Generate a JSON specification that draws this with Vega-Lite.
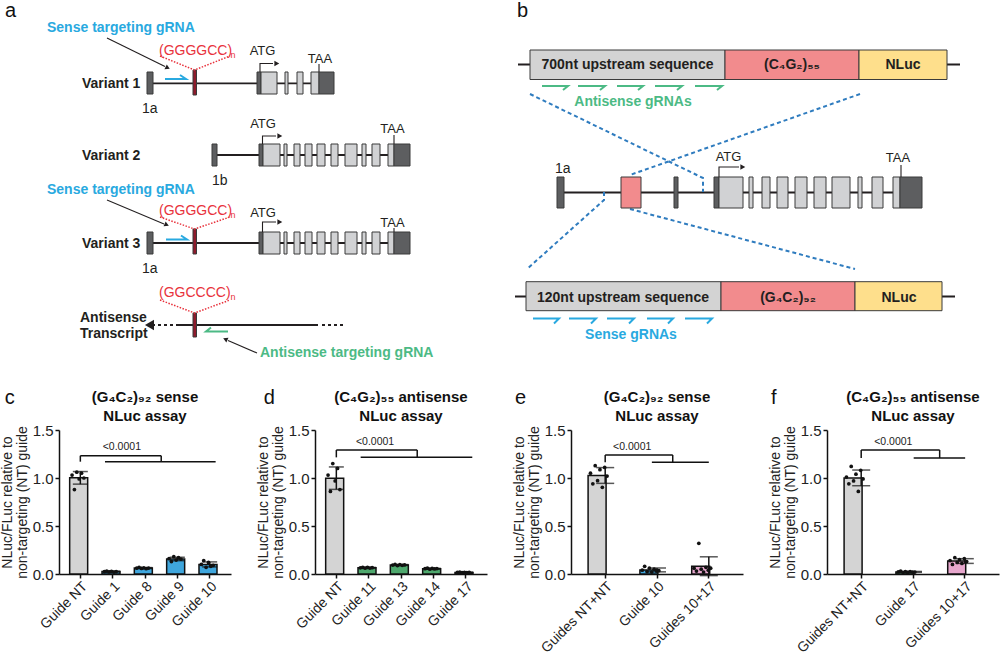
{
"$schema": "https://vega.github.io/schema/vega-lite/v6.json",
"padding": 0,
"columns": 1,
"align": "none",
"spacing": 3,
"resolve": {"scale": {"color": "independent"}},
"datasets": {
"lines": [
{"id":"bb1","kind":"backbone","i":0,"x":148,"y":83.3},{"id":"bb1","kind":"backbone","i":1,"x":332,"y":83.3},
{"id":"bb2","kind":"backbone","i":0,"x":215,"y":155},{"id":"bb2","kind":"backbone","i":1,"x":408,"y":155},
{"id":"bb3","kind":"backbone","i":0,"x":148,"y":243},{"id":"bb3","kind":"backbone","i":1,"x":408,"y":243},
{"id":"bb4","kind":"backbone","i":0,"x":178,"y":325},{"id":"bb4","kind":"backbone","i":1,"x":318,"y":325},
{"id":"bd1","kind":"backbone-gap","i":0,"x":152,"y":325},{"id":"bd1","kind":"backbone-gap","i":1,"x":178,"y":325},
{"id":"bd2","kind":"backbone-gap","i":0,"x":322,"y":325},{"id":"bd2","kind":"backbone-gap","i":1,"x":344,"y":325},
{"id":"bbt","kind":"backbone","i":0,"x":518,"y":64.5},{"id":"bbt","kind":"backbone","i":1,"x":960,"y":64.5},
{"id":"bbg","kind":"backbone","i":0,"x":557,"y":192.5},{"id":"bbg","kind":"backbone","i":1,"x":920,"y":192.5},
{"id":"bbb","kind":"backbone","i":0,"x":515,"y":296.5},{"id":"bbb","kind":"backbone","i":1,"x":955,"y":296.5},
{"id":"p1","kind":"pointer","i":0,"x":107,"y":38},{"id":"p1","kind":"pointer","i":1,"x":165,"y":66.5},
{"id":"p2","kind":"pointer","i":0,"x":107,"y":200},{"id":"p2","kind":"pointer","i":1,"x":164,"y":224},
{"id":"p3","kind":"pointer","i":0,"x":257,"y":353},{"id":"p3","kind":"pointer","i":1,"x":228,"y":340.5},
{"id":"t1","kind":"tss","i":0,"x":260,"y":72},{"id":"t1","kind":"tss","i":1,"x":260,"y":63.5},{"id":"t1","kind":"tss","i":2,"x":273,"y":63.5},
{"id":"t2","kind":"tss","i":0,"x":262.5,"y":144},{"id":"t2","kind":"tss","i":1,"x":262.5,"y":136},{"id":"t2","kind":"tss","i":2,"x":276,"y":136},
{"id":"t3","kind":"tss","i":0,"x":262.5,"y":232},{"id":"t3","kind":"tss","i":1,"x":262.5,"y":222},{"id":"t3","kind":"tss","i":2,"x":276,"y":222},
{"id":"t4","kind":"tss","i":0,"x":719,"y":177},{"id":"t4","kind":"tss","i":1,"x":719,"y":167},{"id":"t4","kind":"tss","i":2,"x":739,"y":167},
{"id":"k1","kind":"stop","i":0,"x":319,"y":64},{"id":"k1","kind":"stop","i":1,"x":319,"y":72},
{"id":"k2","kind":"stop","i":0,"x":394,"y":135},{"id":"k2","kind":"stop","i":1,"x":394,"y":144},
{"id":"k3","kind":"stop","i":0,"x":394,"y":228},{"id":"k3","kind":"stop","i":1,"x":394,"y":232},
{"id":"k4","kind":"stop","i":0,"x":901,"y":165},{"id":"k4","kind":"stop","i":1,"x":901,"y":177},
{"id":"s1","kind":"sense-guide","i":0,"x":165,"y":79},{"id":"s1","kind":"sense-guide","i":1,"x":186,"y":79},{"id":"s1","kind":"sense-guide","i":2,"x":180,"y":75},
{"id":"s2","kind":"sense-guide","i":0,"x":166,"y":239.5},{"id":"s2","kind":"sense-guide","i":1,"x":187,"y":239.5},{"id":"s2","kind":"sense-guide","i":2,"x":181,"y":235.5},
{"id":"s3","kind":"sense-guide","i":0,"x":533,"y":318.5},{"id":"s3","kind":"sense-guide","i":1,"x":559,"y":318.5},{"id":"s3","kind":"sense-guide","i":2,"x":554,"y":323.5},
{"id":"s4","kind":"sense-guide","i":0,"x":569,"y":318.5},{"id":"s4","kind":"sense-guide","i":1,"x":596,"y":318.5},{"id":"s4","kind":"sense-guide","i":2,"x":591,"y":323.5},
{"id":"s5","kind":"sense-guide","i":0,"x":607,"y":318.5},{"id":"s5","kind":"sense-guide","i":1,"x":634,"y":318.5},{"id":"s5","kind":"sense-guide","i":2,"x":629,"y":323.5},
{"id":"s6","kind":"sense-guide","i":0,"x":647,"y":318.5},{"id":"s6","kind":"sense-guide","i":1,"x":673,"y":318.5},{"id":"s6","kind":"sense-guide","i":2,"x":668,"y":323.5},
{"id":"s7","kind":"sense-guide","i":0,"x":685,"y":318.5},{"id":"s7","kind":"sense-guide","i":1,"x":712,"y":318.5},{"id":"s7","kind":"sense-guide","i":2,"x":707,"y":323.5},
{"id":"a1","kind":"antisense-guide","i":0,"x":228,"y":331.5},{"id":"a1","kind":"antisense-guide","i":1,"x":206,"y":331.5},{"id":"a1","kind":"antisense-guide","i":2,"x":211,"y":327.5},
{"id":"a2","kind":"antisense-guide","i":0,"x":542,"y":86},{"id":"a2","kind":"antisense-guide","i":1,"x":568,"y":86},{"id":"a2","kind":"antisense-guide","i":2,"x":563,"y":90},
{"id":"a3","kind":"antisense-guide","i":0,"x":578,"y":86},{"id":"a3","kind":"antisense-guide","i":1,"x":605,"y":86},{"id":"a3","kind":"antisense-guide","i":2,"x":600,"y":90},
{"id":"a4","kind":"antisense-guide","i":0,"x":617,"y":86},{"id":"a4","kind":"antisense-guide","i":1,"x":643,"y":86},{"id":"a4","kind":"antisense-guide","i":2,"x":638,"y":90},
{"id":"a5","kind":"antisense-guide","i":0,"x":655,"y":86},{"id":"a5","kind":"antisense-guide","i":1,"x":682,"y":86},{"id":"a5","kind":"antisense-guide","i":2,"x":677,"y":90},
{"id":"a6","kind":"antisense-guide","i":0,"x":695,"y":86},{"id":"a6","kind":"antisense-guide","i":1,"x":722,"y":86},{"id":"a6","kind":"antisense-guide","i":2,"x":717,"y":90},
{"id":"r1","kind":"repeat-span","i":0,"x":160,"y":56},{"id":"r1","kind":"repeat-span","i":1,"x":194.5,"y":70},{"id":"r1","kind":"repeat-span","i":2,"x":230,"y":56},
{"id":"r2","kind":"repeat-span","i":0,"x":160,"y":217},{"id":"r2","kind":"repeat-span","i":1,"x":194.5,"y":229},{"id":"r2","kind":"repeat-span","i":2,"x":230,"y":217},
{"id":"r3","kind":"repeat-span","i":0,"x":160,"y":300},{"id":"r3","kind":"repeat-span","i":1,"x":194.5,"y":313},{"id":"r3","kind":"repeat-span","i":2,"x":230,"y":300},
{"id":"z1","kind":"zoom-link","i":0,"x":530,"y":94},{"id":"z1","kind":"zoom-link","i":1,"x":703,"y":178},{"id":"z1","kind":"zoom-link","i":2,"x":703,"y":192},
{"id":"z2","kind":"zoom-link","i":0,"x":860,"y":94},{"id":"z2","kind":"zoom-link","i":1,"x":630,"y":175},
{"id":"z3","kind":"zoom-link","i":0,"x":604,"y":192},{"id":"z3","kind":"zoom-link","i":1,"x":604,"y":200},{"id":"z3","kind":"zoom-link","i":2,"x":527,"y":269},
{"id":"z4","kind":"zoom-link","i":0,"x":630,"y":209},{"id":"z4","kind":"zoom-link","i":1,"x":855,"y":269}
],
"rects": [
{"x":147,"xe":153,"y":72,"ye":94,"part":"noncoding"},
{"x":193,"xe":196.5,"y":70,"ye":95,"part":"repeat"},
{"x":257,"xe":261,"y":72,"ye":94,"part":"noncoding"},{"x":261,"xe":277,"y":72,"ye":94,"part":"coding"},
{"x":285,"xe":288,"y":72,"ye":94,"part":"coding"},{"x":297,"xe":303,"y":72,"ye":94,"part":"coding"},
{"x":311,"xe":319,"y":72,"ye":94,"part":"coding"},{"x":319,"xe":334,"y":72,"ye":94,"part":"noncoding"},
{"x":212,"xe":217,"y":144,"ye":166,"part":"noncoding"},
{"x":259,"xe":263,"y":144,"ye":166,"part":"noncoding"},{"x":263,"xe":280,"y":144,"ye":166,"part":"coding"},
{"x":284,"xe":287,"y":144,"ye":166,"part":"coding"},{"x":294,"xe":300,"y":144,"ye":166,"part":"coding"},
{"x":305,"xe":312,"y":144,"ye":166,"part":"coding"},{"x":317,"xe":325,"y":144,"ye":166,"part":"coding"},
{"x":331,"xe":338,"y":144,"ye":166,"part":"coding"},{"x":345,"xe":357,"y":144,"ye":166,"part":"coding"},
{"x":362,"xe":366,"y":144,"ye":166,"part":"coding"},{"x":372,"xe":380,"y":144,"ye":166,"part":"coding"},
{"x":388,"xe":394,"y":144,"ye":166,"part":"coding"},{"x":394,"xe":410,"y":144,"ye":166,"part":"noncoding"},
{"x":147,"xe":153,"y":232,"ye":254,"part":"noncoding"},
{"x":193,"xe":196.5,"y":229,"ye":254,"part":"repeat"},
{"x":259,"xe":263,"y":232,"ye":254,"part":"noncoding"},{"x":263,"xe":280,"y":232,"ye":254,"part":"coding"},
{"x":284,"xe":287,"y":232,"ye":254,"part":"coding"},{"x":294,"xe":300,"y":232,"ye":254,"part":"coding"},
{"x":305,"xe":312,"y":232,"ye":254,"part":"coding"},{"x":317,"xe":325,"y":232,"ye":254,"part":"coding"},
{"x":331,"xe":338,"y":232,"ye":254,"part":"coding"},{"x":345,"xe":357,"y":232,"ye":254,"part":"coding"},
{"x":362,"xe":366,"y":232,"ye":254,"part":"coding"},{"x":372,"xe":380,"y":232,"ye":254,"part":"coding"},
{"x":388,"xe":394,"y":232,"ye":254,"part":"coding"},{"x":394,"xe":410,"y":232,"ye":254,"part":"noncoding"},
{"x":193,"xe":196.5,"y":313,"ye":337,"part":"repeat"},
{"x":557,"xe":564,"y":177,"ye":208,"part":"noncoding"},
{"x":621,"xe":641,"y":177,"ye":208,"part":"expansion"},
{"x":674,"xe":678,"y":177,"ye":208,"part":"noncoding"},
{"x":714,"xe":719,"y":177,"ye":208,"part":"noncoding"},{"x":719,"xe":743,"y":177,"ye":208,"part":"coding"},
{"x":749,"xe":753,"y":177,"ye":208,"part":"coding"},{"x":762,"xe":770,"y":177,"ye":208,"part":"coding"},
{"x":777,"xe":788,"y":177,"ye":208,"part":"coding"},{"x":795,"xe":807,"y":177,"ye":208,"part":"coding"},
{"x":814,"xe":826,"y":177,"ye":208,"part":"coding"},{"x":832,"xe":850,"y":177,"ye":208,"part":"coding"},
{"x":858,"xe":862,"y":177,"ye":208,"part":"coding"},{"x":872,"xe":883,"y":177,"ye":208,"part":"coding"},
{"x":893,"xe":900,"y":177,"ye":208,"part":"coding"},{"x":900,"xe":922,"y":177,"ye":208,"part":"noncoding"},
{"x":530,"xe":725,"y":50,"ye":79.5,"part":"upstream"},{"x":725,"xe":859,"y":50,"ye":79.5,"part":"expansion"},{"x":859,"xe":947,"y":50,"ye":79.5,"part":"reporter"},
{"x":526,"xe":721,"y":281.7,"ye":310.7,"part":"upstream"},{"x":721,"xe":855,"y":281.7,"ye":310.7,"part":"expansion"},{"x":855,"xe":942,"y":281.7,"ye":310.7,"part":"reporter"}
],
"heads": [
{"x":167,"y":67.5,"dir":116,"kind":"pointer"},{"x":166,"y":224.5,"dir":113,"kind":"pointer"},{"x":226,"y":339.5,"dir":294,"kind":"pointer"},
{"x":276,"y":63.5,"dir":90,"kind":"tss"},{"x":279,"y":136,"dir":90,"kind":"tss"},{"x":279,"y":222,"dir":90,"kind":"tss"},{"x":742,"y":167,"dir":90,"kind":"tss"},
{"x":151,"y":325,"dir":270,"kind":"transcript"}
],
"labels": [
{"t":"a","x":5,"y":17,"kind":"panel"},{"t":"b","x":517,"y":17,"kind":"panel"},
{"t":"Variant 1","x":82,"y":88,"kind":"transcript"},{"t":"Variant 2","x":82,"y":159.5,"kind":"transcript"},{"t":"Variant 3","x":82,"y":248,"kind":"transcript"},
{"t":"Antisense","x":80,"y":322,"kind":"transcript"},{"t":"Transcript","x":80,"y":338,"kind":"transcript"},
{"t":"Sense targeting gRNA","x":47,"y":32,"kind":"guide-note","strand":"sense"},
{"t":"Sense targeting gRNA","x":47,"y":194,"kind":"guide-note","strand":"sense"},
{"t":"Antisense targeting gRNA","x":260,"y":357,"kind":"guide-note","strand":"antisense"},
{"t":"(GGGGCC)","x":159,"y":55,"kind":"repeat"},{"t":"(GGGGCC)","x":159,"y":215,"kind":"repeat"},{"t":"(GGCCCC)","x":159,"y":297,"kind":"repeat"},
{"t":"n","x":230.5,"y":58,"kind":"repeat-n"},{"t":"n","x":230.5,"y":218,"kind":"repeat-n"},{"t":"n","x":230.5,"y":300,"kind":"repeat-n"},
{"t":"1a","x":142,"y":113,"kind":"exon"},{"t":"1b","x":212,"y":185,"kind":"exon"},{"t":"1a","x":142,"y":273,"kind":"exon"},{"t":"1a","x":555,"y":173,"kind":"exon"},
{"t":"ATG","x":262.5,"y":55,"kind":"codon"},{"t":"TAA","x":320,"y":62.5,"kind":"codon"},
{"t":"ATG","x":263,"y":128,"kind":"codon"},{"t":"TAA","x":392.5,"y":133,"kind":"codon"},
{"t":"ATG","x":263,"y":217,"kind":"codon"},{"t":"TAA","x":392.5,"y":227,"kind":"codon"},
{"t":"ATG","x":728.5,"y":161,"kind":"codon"},{"t":"TAA","x":898,"y":162,"kind":"codon"},
{"t":"700nt upstream sequence","x":627.5,"y":69,"kind":"construct"},{"t":"(C₄G₂)₅₅","x":792,"y":69,"kind":"construct"},{"t":"NLuc","x":903,"y":69,"kind":"construct"},
{"t":"120nt upstream sequence","x":623,"y":301.5,"kind":"construct"},{"t":"(G₄C₂)₉₂","x":788,"y":301.5,"kind":"construct"},{"t":"NLuc","x":899,"y":301.5,"kind":"construct"},
{"t":"Antisense gRNAs","x":633,"y":106,"kind":"guide-set","strand":"antisense"},
{"t":"Sense gRNAs","x":631,"y":339,"kind":"guide-set","strand":"sense"}
],
"c": [
{"g":"Guide NT","target":"NT","rep":1,"v":1.03},{"g":"Guide NT","target":"NT","rep":2,"v":0.88},{"g":"Guide NT","target":"NT","rep":3,"v":1.06},{"g":"Guide NT","target":"NT","rep":4,"v":0.99},{"g":"Guide NT","target":"NT","rep":5,"v":1.05},{"g":"Guide NT","target":"NT","rep":6,"v":1.0},
{"g":"Guide 1","target":"sense","rep":1,"v":0.025},{"g":"Guide 1","target":"sense","rep":2,"v":0.03},{"g":"Guide 1","target":"sense","rep":3,"v":0.022},{"g":"Guide 1","target":"sense","rep":4,"v":0.028},{"g":"Guide 1","target":"sense","rep":5,"v":0.02},{"g":"Guide 1","target":"sense","rep":6,"v":0.026},
{"g":"Guide 8","target":"sense","rep":1,"v":0.06},{"g":"Guide 8","target":"sense","rep":2,"v":0.07},{"g":"Guide 8","target":"sense","rep":3,"v":0.058},{"g":"Guide 8","target":"sense","rep":4,"v":0.065},{"g":"Guide 8","target":"sense","rep":5,"v":0.055},{"g":"Guide 8","target":"sense","rep":6,"v":0.062},
{"g":"Guide 9","target":"sense","rep":1,"v":0.16},{"g":"Guide 9","target":"sense","rep":2,"v":0.13},{"g":"Guide 9","target":"sense","rep":3,"v":0.18},{"g":"Guide 9","target":"sense","rep":4,"v":0.145},{"g":"Guide 9","target":"sense","rep":5,"v":0.17},{"g":"Guide 9","target":"sense","rep":6,"v":0.155},
{"g":"Guide 10","target":"sense","rep":1,"v":0.1},{"g":"Guide 10","target":"sense","rep":2,"v":0.14},{"g":"Guide 10","target":"sense","rep":3,"v":0.07},{"g":"Guide 10","target":"sense","rep":4,"v":0.12},{"g":"Guide 10","target":"sense","rep":5,"v":0.08},{"g":"Guide 10","target":"sense","rep":6,"v":0.09}
],
"d": [
{"g":"Guide NT","target":"NT","rep":1,"v":1.03},{"g":"Guide NT","target":"NT","rep":2,"v":0.86},{"g":"Guide NT","target":"NT","rep":3,"v":1.15},{"g":"Guide NT","target":"NT","rep":4,"v":0.97},{"g":"Guide NT","target":"NT","rep":5,"v":1.1},{"g":"Guide NT","target":"NT","rep":6,"v":0.88},
{"g":"Guide 11","target":"antisense","rep":1,"v":0.064},{"g":"Guide 11","target":"antisense","rep":2,"v":0.07},{"g":"Guide 11","target":"antisense","rep":3,"v":0.06},{"g":"Guide 11","target":"antisense","rep":4,"v":0.068},{"g":"Guide 11","target":"antisense","rep":5,"v":0.062},{"g":"Guide 11","target":"antisense","rep":6,"v":0.066},
{"g":"Guide 13","target":"antisense","rep":1,"v":0.093},{"g":"Guide 13","target":"antisense","rep":2,"v":0.1},{"g":"Guide 13","target":"antisense","rep":3,"v":0.088},{"g":"Guide 13","target":"antisense","rep":4,"v":0.098},{"g":"Guide 13","target":"antisense","rep":5,"v":0.09},{"g":"Guide 13","target":"antisense","rep":6,"v":0.095},
{"g":"Guide 14","target":"antisense","rep":1,"v":0.055},{"g":"Guide 14","target":"antisense","rep":2,"v":0.06},{"g":"Guide 14","target":"antisense","rep":3,"v":0.05},{"g":"Guide 14","target":"antisense","rep":4,"v":0.058},{"g":"Guide 14","target":"antisense","rep":5,"v":0.053},{"g":"Guide 14","target":"antisense","rep":6,"v":0.056},
{"g":"Guide 17","target":"antisense","rep":1,"v":0.016},{"g":"Guide 17","target":"antisense","rep":2,"v":0.02},{"g":"Guide 17","target":"antisense","rep":3,"v":0.014},{"g":"Guide 17","target":"antisense","rep":4,"v":0.018},{"g":"Guide 17","target":"antisense","rep":5,"v":0.015},{"g":"Guide 17","target":"antisense","rep":6,"v":0.017}
],
"e": [
{"g":"Guides NT+NT","target":"NT","rep":1,"v":1.05},{"g":"Guides NT+NT","target":"NT","rep":2,"v":0.94},{"g":"Guides NT+NT","target":"NT","rep":3,"v":1.128},{"g":"Guides NT+NT","target":"NT","rep":4,"v":0.972},{"g":"Guides NT+NT","target":"NT","rep":5,"v":1.087},{"g":"Guides NT+NT","target":"NT","rep":6,"v":0.903},{"g":"Guides NT+NT","target":"NT","rep":7,"v":1.11},{"g":"Guides NT+NT","target":"NT","rep":8,"v":1.02},
{"g":"Guide 10","target":"sense","rep":1,"v":0.04},{"g":"Guide 10","target":"sense","rep":2,"v":0.08},{"g":"Guide 10","target":"sense","rep":3,"v":0.025},{"g":"Guide 10","target":"sense","rep":4,"v":0.06},{"g":"Guide 10","target":"sense","rep":5,"v":0.02},{"g":"Guide 10","target":"sense","rep":6,"v":0.05},{"g":"Guide 10","target":"sense","rep":7,"v":0.03},{"g":"Guide 10","target":"sense","rep":8,"v":0.035},
{"g":"Guides 10+17","target":"sense+antisense","rep":1,"v":0.06},{"g":"Guides 10+17","target":"sense+antisense","rep":2,"v":0.03},{"g":"Guides 10+17","target":"sense+antisense","rep":3,"v":0.32},{"g":"Guides 10+17","target":"sense+antisense","rep":4,"v":0.05},{"g":"Guides 10+17","target":"sense+antisense","rep":5,"v":0.02},{"g":"Guides 10+17","target":"sense+antisense","rep":6,"v":0.07},{"g":"Guides 10+17","target":"sense+antisense","rep":7,"v":0.04},{"g":"Guides 10+17","target":"sense+antisense","rep":8,"v":0.06}
],
"f": [
{"g":"Guides NT+NT","target":"NT","rep":1,"v":1.01},{"g":"Guides NT+NT","target":"NT","rep":2,"v":0.94},{"g":"Guides NT+NT","target":"NT","rep":3,"v":1.12},{"g":"Guides NT+NT","target":"NT","rep":4,"v":0.97},{"g":"Guides NT+NT","target":"NT","rep":5,"v":1.04},{"g":"Guides NT+NT","target":"NT","rep":6,"v":0.86},{"g":"Guides NT+NT","target":"NT","rep":7,"v":1.08},{"g":"Guides NT+NT","target":"NT","rep":8,"v":0.99},
{"g":"Guide 17","target":"antisense","rep":1,"v":0.022},{"g":"Guide 17","target":"antisense","rep":2,"v":0.03},{"g":"Guide 17","target":"antisense","rep":3,"v":0.018},{"g":"Guide 17","target":"antisense","rep":4,"v":0.024},{"g":"Guide 17","target":"antisense","rep":5,"v":0.016},{"g":"Guide 17","target":"antisense","rep":6,"v":0.026},{"g":"Guide 17","target":"antisense","rep":7,"v":0.02},{"g":"Guide 17","target":"antisense","rep":8,"v":0.02},
{"g":"Guides 10+17","target":"sense+antisense","rep":1,"v":0.14},{"g":"Guides 10+17","target":"sense+antisense","rep":2,"v":0.1},{"g":"Guides 10+17","target":"sense+antisense","rep":3,"v":0.17},{"g":"Guides 10+17","target":"sense+antisense","rep":4,"v":0.12},{"g":"Guides 10+17","target":"sense+antisense","rep":5,"v":0.15},{"g":"Guides 10+17","target":"sense+antisense","rep":6,"v":0.11},{"g":"Guides 10+17","target":"sense+antisense","rep":7,"v":0.16},{"g":"Guides 10+17","target":"sense+antisense","rep":8,"v":0.13}
],
"cBr": [{"panel":"c","h":["(G₄C₂)₉₂ sense","NLuc assay"],"center":"Guide 8","ref":"Guide NT","mid":"Guide 8","first":"Guide 1","last":"Guide 10","top":1.232,"low":1.17,"p":"<0.0001","py":1.326}],
"dBr": [{"panel":"d","h":["(C₄G₂)₅₅ antisense","NLuc assay"],"center":"Guide 13","ref":"Guide NT","mid":"Guide 13","first":"Guide 11","last":"Guide 17","top":1.292,"low":1.215,"p":"<0.0001","py":1.373}],
"eBr": [{"panel":"e","h":["(G₄C₂)₉₂ sense","NLuc assay"],"center":"Guide 10","ref":"Guides NT+NT","mid":"Guide 10","first":"Guide 10","last":"Guides 10+17","top":1.24,"low":1.163,"p":"<0.0001","py":1.326}],
"fBr": [{"panel":"f","h":["(C₄G₂)₅₅ antisense","NLuc assay"],"center":"Guide 17","ref":"Guides NT+NT","mid":"Guide 17","first":"Guide 17","last":"Guides 10+17","top":1.292,"low":1.208,"p":"<0.0001","py":1.373}]
},
"concat": [
{
"width": 941, "height": 385,
"encoding": {
 "x": {"field":"x","type":"quantitative","scale":{"domain":[59,1000],"nice":false,"zero":false},"axis":null},
 "y": {"field":"y","type":"quantitative","scale":{"domain":[0,385],"nice":false,"zero":false,"reverse":true},"axis":null}
},
"layer": [
 {"data":{"name":"lines"},"transform":[{"filter":"datum.kind == 'backbone'"}],"mark":{"type":"line","color":"#231f20","strokeWidth":1.8,"strokeCap":"butt"},"encoding":{"detail":{"field":"id"},"order":{"field":"i","type":"quantitative"}}},
 {"data":{"name":"lines"},"transform":[{"filter":"datum.kind == 'backbone-gap'"}],"mark":{"type":"line","color":"#231f20","strokeWidth":1.8,"strokeDash":[3,3],"strokeCap":"butt"},"encoding":{"detail":{"field":"id"},"order":{"field":"i","type":"quantitative"}}},
 {"data":{"name":"lines"},"transform":[{"filter":"datum.kind == 'zoom-link'"}],"mark":{"type":"line","color":"#2f7cbf","strokeWidth":2,"strokeDash":[4,3],"strokeCap":"butt"},"encoding":{"detail":{"field":"id"},"order":{"field":"i","type":"quantitative"}}},
 {"data":{"name":"rects"},"mark":{"type":"rect","stroke":"#3a3a3a","strokeWidth":1},"encoding":{"x2":{"field":"xe"},"y2":{"field":"ye"},"color":{"field":"part","type":"nominal","scale":{"domain":["noncoding","coding","repeat","expansion","upstream","reporter"],"range":["#5d5e60","#d1d2d4","#8e1b2c","#f28b8d","#d3d3d3","#fedf8c"]},"legend":null}}},
 {"data":{"name":"lines"},"transform":[{"filter":"datum.kind == 'pointer' || datum.kind == 'tss' || datum.kind == 'stop'"}],"mark":{"type":"line","color":"#231f20","strokeWidth":1.1,"strokeCap":"butt"},"encoding":{"detail":{"field":"id"},"order":{"field":"i","type":"quantitative"}}},
 {"data":{"name":"lines"},"transform":[{"filter":"datum.kind == 'sense-guide'"}],"mark":{"type":"line","color":"#29a9e0","strokeWidth":2},"encoding":{"detail":{"field":"id"},"order":{"field":"i","type":"quantitative"}}},
 {"data":{"name":"lines"},"transform":[{"filter":"datum.kind == 'antisense-guide'"}],"mark":{"type":"line","color":"#4cba85","strokeWidth":2},"encoding":{"detail":{"field":"id"},"order":{"field":"i","type":"quantitative"}}},
 {"data":{"name":"lines"},"transform":[{"filter":"datum.kind == 'repeat-span'"}],"mark":{"type":"line","color":"#e8323c","strokeWidth":1.5,"strokeDash":[1.5,1.5],"strokeCap":"butt"},"encoding":{"detail":{"field":"id"},"order":{"field":"i","type":"quantitative"}}},
 {"data":{"name":"heads"},"transform":[{"filter":"datum.kind == 'pointer'"}],"mark":{"type":"point","shape":"triangle","filled":true,"opacity":1,"color":"#231f20","size":28},"encoding":{"angle":{"field":"dir","type":"quantitative","scale":null}}},
 {"data":{"name":"heads"},"transform":[{"filter":"datum.kind == 'tss'"}],"mark":{"type":"point","shape":"triangle","filled":true,"opacity":1,"color":"#231f20","size":32},"encoding":{"angle":{"field":"dir","type":"quantitative","scale":null}}},
 {"data":{"name":"heads"},"transform":[{"filter":"datum.kind == 'transcript'"}],"mark":{"type":"point","shape":"triangle","filled":true,"opacity":1,"color":"#231f20","size":110},"encoding":{"angle":{"field":"dir","type":"quantitative","scale":null}}},
 {"data":{"name":"labels"},"transform":[{"filter":"datum.kind == 'panel'"}],"mark":{"type":"text","align":"left","baseline":"alphabetic","fontSize":20,"color":"#111"},"encoding":{"text":{"field":"t"}}},
 {"data":{"name":"labels"},"transform":[{"filter":"datum.kind == 'transcript'"}],"mark":{"type":"text","align":"left","baseline":"alphabetic","fontSize":14,"fontWeight":"bold","color":"#231f20"},"encoding":{"text":{"field":"t"}}},
 {"data":{"name":"labels"},"transform":[{"filter":"datum.kind == 'guide-note' && datum.strand == 'sense'"}],"mark":{"type":"text","align":"left","baseline":"alphabetic","fontSize":14,"fontWeight":"bold","color":"#29a9e0"},"encoding":{"text":{"field":"t"}}},
 {"data":{"name":"labels"},"transform":[{"filter":"datum.kind == 'guide-note' && datum.strand == 'antisense'"}],"mark":{"type":"text","align":"left","baseline":"alphabetic","fontSize":14,"fontWeight":"bold","color":"#4cba85"},"encoding":{"text":{"field":"t"}}},
 {"data":{"name":"labels"},"transform":[{"filter":"datum.kind == 'repeat'"}],"mark":{"type":"text","align":"left","baseline":"alphabetic","fontSize":14,"color":"#e8323c"},"encoding":{"text":{"field":"t"}}},
 {"data":{"name":"labels"},"transform":[{"filter":"datum.kind == 'repeat-n'"}],"mark":{"type":"text","align":"left","baseline":"alphabetic","fontSize":9,"color":"#e8323c"},"encoding":{"text":{"field":"t"}}},
 {"data":{"name":"labels"},"transform":[{"filter":"datum.kind == 'exon'"}],"mark":{"type":"text","align":"left","baseline":"alphabetic","fontSize":14,"color":"#231f20"},"encoding":{"text":{"field":"t"}}},
 {"data":{"name":"labels"},"transform":[{"filter":"datum.kind == 'codon'"}],"mark":{"type":"text","align":"center","baseline":"alphabetic","fontSize":13,"color":"#231f20"},"encoding":{"text":{"field":"t"}}},
 {"data":{"name":"labels"},"transform":[{"filter":"datum.kind == 'construct'"}],"mark":{"type":"text","align":"center","baseline":"alphabetic","fontSize":14,"fontWeight":"bold","color":"#231f20"},"encoding":{"text":{"field":"t"}}},
 {"data":{"name":"labels"},"transform":[{"filter":"datum.kind == 'guide-set' && datum.strand == 'sense'"}],"mark":{"type":"text","align":"center","baseline":"alphabetic","fontSize":14,"fontWeight":"bold","color":"#29a9e0"},"encoding":{"text":{"field":"t"}}},
 {"data":{"name":"labels"},"transform":[{"filter":"datum.kind == 'guide-set' && datum.strand == 'antisense'"}],"mark":{"type":"text","align":"center","baseline":"alphabetic","fontSize":14,"fontWeight":"bold","color":"#4cba85"},"encoding":{"text":{"field":"t"}}}
]
},
{
"spacing": 25,
"hconcat": [
{
"width": 172, "height": 144,
"layer": [
 {"data":{"name":"c"},"mark":{"type":"bar","stroke":"#111","strokeWidth":1.5},"encoding":{
   "x":{"field":"g","type":"nominal","scale":{"domain":["Guide NT","Guide 1","Guide 8","Guide 9","Guide 10"],"paddingInner":0.34,"paddingOuter":0.33},"axis":{"title":null}},
   "y":{"aggregate":"mean","field":"v","type":"quantitative","scale":{"domain":[0,1.5],"nice":false},"axis":{"title":["NLuc/FLuc relative to","non-targeting (NT) guide"],"values":[0,0.5,1,1.5],"format":".1f"}},
   "color":{"field":"target","type":"nominal","scale":{"domain":["NT","sense","antisense","sense+antisense"],"range":["#d4d4d4","#3fa6dd","#4ea86d","#e7a7cd"]},"legend":null}}},
 {"data":{"name":"c"},"mark":{"type":"errorbar","extent":"stdev","color":"#111","ticks":{"size":15,"thickness":1.5},"rule":{"strokeWidth":1.5}},"encoding":{
   "x":{"field":"g","type":"nominal","scale":{"domain":["Guide NT","Guide 1","Guide 8","Guide 9","Guide 10"],"paddingInner":0.34,"paddingOuter":0.33},"axis":{"title":null}},
   "y":{"field":"v","type":"quantitative","scale":{"domain":[0,1.5],"nice":false},"axis":{"title":["NLuc/FLuc relative to","non-targeting (NT) guide"]}}}},
 {"data":{"name":"c"},"mark":{"type":"point","filled":true,"size":14,"color":"#111","opacity":1},"encoding":{
   "x":{"field":"g","type":"nominal","scale":{"domain":["Guide NT","Guide 1","Guide 8","Guide 9","Guide 10"],"paddingInner":0.34,"paddingOuter":0.33},"axis":{"title":null}},
   "xOffset":{"field":"rep","type":"nominal","scale":{"paddingOuter":1.4,"paddingInner":0}},
   "y":{"field":"v","type":"quantitative","scale":{"domain":[0,1.5],"nice":false},"axis":{"title":["NLuc/FLuc relative to","non-targeting (NT) guide"]}}}},
 {"data":{"name":"cBr"},"mark":{"type":"rule","color":"#111","strokeWidth":1.5},"encoding":{
   "x":{"field":"ref","type":"nominal","bandPosition":0.5,"scale":{"domain":["Guide NT","Guide 1","Guide 8","Guide 9","Guide 10"],"paddingInner":0.34,"paddingOuter":0.33},"axis":{"title":null}},
   "x2":{"field":"mid","bandPosition":1.26},
   "y":{"field":"top","type":"quantitative","scale":{"domain":[0,1.5],"nice":false},"axis":{"title":["NLuc/FLuc relative to","non-targeting (NT) guide"]}}}},
 {"data":{"name":"cBr"},"mark":{"type":"rule","color":"#111","strokeWidth":1.5},"encoding":{
   "x":{"field":"ref","type":"nominal","bandPosition":0.5,"scale":{"domain":["Guide NT","Guide 1","Guide 8","Guide 9","Guide 10"],"paddingInner":0.34,"paddingOuter":0.33},"axis":{"title":null}},
   "y":{"field":"top","type":"quantitative","scale":{"domain":[0,1.5],"nice":false},"axis":{"title":["NLuc/FLuc relative to","non-targeting (NT) guide"]}},"y2":{"field":"low"}}},
 {"data":{"name":"cBr"},"mark":{"type":"rule","color":"#111","strokeWidth":1.5},"encoding":{
   "x":{"field":"mid","type":"nominal","bandPosition":1.26,"scale":{"domain":["Guide NT","Guide 1","Guide 8","Guide 9","Guide 10"],"paddingInner":0.34,"paddingOuter":0.33},"axis":{"title":null}},
   "y":{"field":"top","type":"quantitative","scale":{"domain":[0,1.5],"nice":false},"axis":{"title":["NLuc/FLuc relative to","non-targeting (NT) guide"]}},"y2":{"field":"low"}}},
 {"data":{"name":"cBr"},"mark":{"type":"rule","color":"#111","strokeWidth":1.5},"encoding":{
   "x":{"field":"first","type":"nominal","bandPosition":0.14,"scale":{"domain":["Guide NT","Guide 1","Guide 8","Guide 9","Guide 10"],"paddingInner":0.34,"paddingOuter":0.33},"axis":{"title":null}},
   "x2":{"field":"last","bandPosition":0.78},
   "y":{"field":"low","type":"quantitative","scale":{"domain":[0,1.5],"nice":false},"axis":{"title":["NLuc/FLuc relative to","non-targeting (NT) guide"]}}}},
 {"data":{"name":"cBr"},"mark":{"type":"text","fontSize":10.5,"color":"#222","baseline":"middle"},"encoding":{
   "x":{"field":"first","type":"nominal","bandPosition":0.93,"scale":{"domain":["Guide NT","Guide 1","Guide 8","Guide 9","Guide 10"],"paddingInner":0.34,"paddingOuter":0.33},"axis":{"title":null}},
   "y":{"field":"py","type":"quantitative","scale":{"domain":[0,1.5],"nice":false},"axis":{"title":["NLuc/FLuc relative to","non-targeting (NT) guide"]}},"text":{"field":"p"}}},
 {"data":{"name":"cBr"},"mark":{"type":"text","fontSize":15,"fontWeight":"bold","lineHeight":19,"color":"#111","align":"center","baseline":"alphabetic"},"encoding":{
   "x":{"field":"center","type":"nominal","bandPosition":0.5,"scale":{"domain":["Guide NT","Guide 1","Guide 8","Guide 9","Guide 10"],"paddingInner":0.34,"paddingOuter":0.33},"axis":{"title":null}},
   "y":{"datum":1.795,"type":"quantitative","scale":{"domain":[0,1.5],"nice":false},"axis":{"title":["NLuc/FLuc relative to","non-targeting (NT) guide"]}},"text":{"field":"h"}}},
 {"data":{"name":"cBr"},"mark":{"type":"text","fontSize":20,"color":"#111","align":"left","baseline":"alphabetic","dx":-65},"encoding":{
   "x":{"field":"ref","type":"nominal","bandPosition":0,"scale":{"domain":["Guide NT","Guide 1","Guide 8","Guide 9","Guide 10"],"paddingInner":0.34,"paddingOuter":0.33},"axis":{"title":null}},
   "y":{"datum":1.769,"type":"quantitative","scale":{"domain":[0,1.5],"nice":false},"axis":{"title":["NLuc/FLuc relative to","non-targeting (NT) guide"]}},"text":{"field":"panel"}}}
]
},
{
"width": 172, "height": 144,
"layer": [
 {"data":{"name":"d"},"mark":{"type":"bar","stroke":"#111","strokeWidth":1.5},"encoding":{
   "x":{"field":"g","type":"nominal","scale":{"domain":["Guide NT","Guide 11","Guide 13","Guide 14","Guide 17"],"paddingInner":0.34,"paddingOuter":0.33},"axis":{"title":null}},
   "y":{"aggregate":"mean","field":"v","type":"quantitative","scale":{"domain":[0,1.5],"nice":false},"axis":{"title":["NLuc/FLuc relative to","non-targeting (NT) guide"],"values":[0,0.5,1,1.5],"format":".1f"}},
   "color":{"field":"target","type":"nominal","scale":{"domain":["NT","sense","antisense","sense+antisense"],"range":["#d4d4d4","#3fa6dd","#4ea86d","#e7a7cd"]},"legend":null}}},
 {"data":{"name":"d"},"mark":{"type":"errorbar","extent":"stdev","color":"#111","ticks":{"size":15,"thickness":1.5},"rule":{"strokeWidth":1.5}},"encoding":{
   "x":{"field":"g","type":"nominal","scale":{"domain":["Guide NT","Guide 11","Guide 13","Guide 14","Guide 17"],"paddingInner":0.34,"paddingOuter":0.33},"axis":{"title":null}},
   "y":{"field":"v","type":"quantitative","scale":{"domain":[0,1.5],"nice":false},"axis":{"title":["NLuc/FLuc relative to","non-targeting (NT) guide"]}}}},
 {"data":{"name":"d"},"mark":{"type":"point","filled":true,"size":14,"color":"#111","opacity":1},"encoding":{
   "x":{"field":"g","type":"nominal","scale":{"domain":["Guide NT","Guide 11","Guide 13","Guide 14","Guide 17"],"paddingInner":0.34,"paddingOuter":0.33},"axis":{"title":null}},
   "xOffset":{"field":"rep","type":"nominal","scale":{"paddingOuter":1.4,"paddingInner":0}},
   "y":{"field":"v","type":"quantitative","scale":{"domain":[0,1.5],"nice":false},"axis":{"title":["NLuc/FLuc relative to","non-targeting (NT) guide"]}}}},
 {"data":{"name":"dBr"},"mark":{"type":"rule","color":"#111","strokeWidth":1.5},"encoding":{
   "x":{"field":"ref","type":"nominal","bandPosition":0.5,"scale":{"domain":["Guide NT","Guide 11","Guide 13","Guide 14","Guide 17"],"paddingInner":0.34,"paddingOuter":0.33},"axis":{"title":null}},
   "x2":{"field":"mid","bandPosition":1.26},
   "y":{"field":"top","type":"quantitative","scale":{"domain":[0,1.5],"nice":false},"axis":{"title":["NLuc/FLuc relative to","non-targeting (NT) guide"]}}}},
 {"data":{"name":"dBr"},"mark":{"type":"rule","color":"#111","strokeWidth":1.5},"encoding":{
   "x":{"field":"ref","type":"nominal","bandPosition":0.5,"scale":{"domain":["Guide NT","Guide 11","Guide 13","Guide 14","Guide 17"],"paddingInner":0.34,"paddingOuter":0.33},"axis":{"title":null}},
   "y":{"field":"top","type":"quantitative","scale":{"domain":[0,1.5],"nice":false},"axis":{"title":["NLuc/FLuc relative to","non-targeting (NT) guide"]}},"y2":{"field":"low"}}},
 {"data":{"name":"dBr"},"mark":{"type":"rule","color":"#111","strokeWidth":1.5},"encoding":{
   "x":{"field":"mid","type":"nominal","bandPosition":1.26,"scale":{"domain":["Guide NT","Guide 11","Guide 13","Guide 14","Guide 17"],"paddingInner":0.34,"paddingOuter":0.33},"axis":{"title":null}},
   "y":{"field":"top","type":"quantitative","scale":{"domain":[0,1.5],"nice":false},"axis":{"title":["NLuc/FLuc relative to","non-targeting (NT) guide"]}},"y2":{"field":"low"}}},
 {"data":{"name":"dBr"},"mark":{"type":"rule","color":"#111","strokeWidth":1.5},"encoding":{
   "x":{"field":"first","type":"nominal","bandPosition":0.125,"scale":{"domain":["Guide NT","Guide 11","Guide 13","Guide 14","Guide 17"],"paddingInner":0.34,"paddingOuter":0.33},"axis":{"title":null}},
   "x2":{"field":"last","bandPosition":0.81},
   "y":{"field":"low","type":"quantitative","scale":{"domain":[0,1.5],"nice":false},"axis":{"title":["NLuc/FLuc relative to","non-targeting (NT) guide"]}}}},
 {"data":{"name":"dBr"},"mark":{"type":"text","fontSize":10.5,"color":"#222","baseline":"middle"},"encoding":{
   "x":{"field":"first","type":"nominal","bandPosition":0.8,"scale":{"domain":["Guide NT","Guide 11","Guide 13","Guide 14","Guide 17"],"paddingInner":0.34,"paddingOuter":0.33},"axis":{"title":null}},
   "y":{"field":"py","type":"quantitative","scale":{"domain":[0,1.5],"nice":false},"axis":{"title":["NLuc/FLuc relative to","non-targeting (NT) guide"]}},"text":{"field":"p"}}},
 {"data":{"name":"dBr"},"mark":{"type":"text","fontSize":15,"fontWeight":"bold","lineHeight":19,"color":"#111","align":"center","baseline":"alphabetic"},"encoding":{
   "x":{"field":"center","type":"nominal","bandPosition":0.5,"scale":{"domain":["Guide NT","Guide 11","Guide 13","Guide 14","Guide 17"],"paddingInner":0.34,"paddingOuter":0.33},"axis":{"title":null}},
   "y":{"datum":1.795,"type":"quantitative","scale":{"domain":[0,1.5],"nice":false},"axis":{"title":["NLuc/FLuc relative to","non-targeting (NT) guide"]}},"text":{"field":"h"}}},
 {"data":{"name":"dBr"},"mark":{"type":"text","fontSize":20,"color":"#111","align":"left","baseline":"alphabetic","dx":-62},"encoding":{
   "x":{"field":"ref","type":"nominal","bandPosition":0,"scale":{"domain":["Guide NT","Guide 11","Guide 13","Guide 14","Guide 17"],"paddingInner":0.34,"paddingOuter":0.33},"axis":{"title":null}},
   "y":{"datum":1.769,"type":"quantitative","scale":{"domain":[0,1.5],"nice":false},"axis":{"title":["NLuc/FLuc relative to","non-targeting (NT) guide"]}},"text":{"field":"panel"}}}
]
},
{
"width": 172, "height": 144,
"layer": [
 {"data":{"name":"e"},"mark":{"type":"bar","stroke":"#111","strokeWidth":1.5},"encoding":{
   "x":{"field":"g","type":"nominal","scale":{"domain":["Guides NT+NT","Guide 10","Guides 10+17"],"paddingInner":0.34,"paddingOuter":0.33},"axis":{"title":null}},
   "y":{"aggregate":"mean","field":"v","type":"quantitative","scale":{"domain":[0,1.5],"nice":false},"axis":{"title":["NLuc/FLuc relative to","non-targeting (NT) guide"],"values":[0,0.5,1,1.5],"format":".1f"}},
   "color":{"field":"target","type":"nominal","scale":{"domain":["NT","sense","antisense","sense+antisense"],"range":["#d4d4d4","#3fa6dd","#4ea86d","#e7a7cd"]},"legend":null}}},
 {"data":{"name":"e"},"mark":{"type":"errorbar","extent":"stdev","color":"#111","ticks":{"size":18,"thickness":1.5},"rule":{"strokeWidth":1.5}},"encoding":{
   "x":{"field":"g","type":"nominal","scale":{"domain":["Guides NT+NT","Guide 10","Guides 10+17"],"paddingInner":0.34,"paddingOuter":0.33},"axis":{"title":null}},
   "y":{"field":"v","type":"quantitative","scale":{"domain":[0,1.5],"nice":false},"axis":{"title":["NLuc/FLuc relative to","non-targeting (NT) guide"]}}}},
 {"data":{"name":"e"},"mark":{"type":"point","filled":true,"size":14,"color":"#111","opacity":1},"encoding":{
   "x":{"field":"g","type":"nominal","scale":{"domain":["Guides NT+NT","Guide 10","Guides 10+17"],"paddingInner":0.34,"paddingOuter":0.33},"axis":{"title":null}},
   "xOffset":{"field":"rep","type":"nominal","scale":{"paddingOuter":2.6,"paddingInner":0}},
   "y":{"field":"v","type":"quantitative","scale":{"domain":[0,1.5],"nice":false},"axis":{"title":["NLuc/FLuc relative to","non-targeting (NT) guide"]}}}},
 {"data":{"name":"eBr"},"mark":{"type":"rule","color":"#111","strokeWidth":1.5},"encoding":{
   "x":{"field":"ref","type":"nominal","bandPosition":0.5,"scale":{"domain":["Guides NT+NT","Guide 10","Guides 10+17"],"paddingInner":0.34,"paddingOuter":0.33},"axis":{"title":null}},
   "x2":{"field":"mid","bandPosition":0.96},
   "y":{"field":"top","type":"quantitative","scale":{"domain":[0,1.5],"nice":false},"axis":{"title":["NLuc/FLuc relative to","non-targeting (NT) guide"]}}}},
 {"data":{"name":"eBr"},"mark":{"type":"rule","color":"#111","strokeWidth":1.5},"encoding":{
   "x":{"field":"ref","type":"nominal","bandPosition":0.5,"scale":{"domain":["Guides NT+NT","Guide 10","Guides 10+17"],"paddingInner":0.34,"paddingOuter":0.33},"axis":{"title":null}},
   "y":{"field":"top","type":"quantitative","scale":{"domain":[0,1.5],"nice":false},"axis":{"title":["NLuc/FLuc relative to","non-targeting (NT) guide"]}},"y2":{"field":"low"}}},
 {"data":{"name":"eBr"},"mark":{"type":"rule","color":"#111","strokeWidth":1.5},"encoding":{
   "x":{"field":"mid","type":"nominal","bandPosition":0.96,"scale":{"domain":["Guides NT+NT","Guide 10","Guides 10+17"],"paddingInner":0.34,"paddingOuter":0.33},"axis":{"title":null}},
   "y":{"field":"top","type":"quantitative","scale":{"domain":[0,1.5],"nice":false},"axis":{"title":["NLuc/FLuc relative to","non-targeting (NT) guide"]}},"y2":{"field":"low"}}},
 {"data":{"name":"eBr"},"mark":{"type":"rule","color":"#111","strokeWidth":1.5},"encoding":{
   "x":{"field":"first","type":"nominal","bandPosition":0.35,"scale":{"domain":["Guides NT+NT","Guide 10","Guides 10+17"],"paddingInner":0.34,"paddingOuter":0.33},"axis":{"title":null}},
   "x2":{"field":"last","bandPosition":0.5},
   "y":{"field":"low","type":"quantitative","scale":{"domain":[0,1.5],"nice":false},"axis":{"title":["NLuc/FLuc relative to","non-targeting (NT) guide"]}}}},
 {"data":{"name":"eBr"},"mark":{"type":"text","fontSize":10.5,"color":"#222","baseline":"middle"},"encoding":{
   "x":{"field":"ref","type":"nominal","bandPosition":1.29,"scale":{"domain":["Guides NT+NT","Guide 10","Guides 10+17"],"paddingInner":0.34,"paddingOuter":0.33},"axis":{"title":null}},
   "y":{"field":"py","type":"quantitative","scale":{"domain":[0,1.5],"nice":false},"axis":{"title":["NLuc/FLuc relative to","non-targeting (NT) guide"]}},"text":{"field":"p"}}},
 {"data":{"name":"eBr"},"mark":{"type":"text","fontSize":15,"fontWeight":"bold","lineHeight":19,"color":"#111","align":"center","baseline":"alphabetic"},"encoding":{
   "x":{"field":"center","type":"nominal","bandPosition":0.5,"scale":{"domain":["Guides NT+NT","Guide 10","Guides 10+17"],"paddingInner":0.34,"paddingOuter":0.33},"axis":{"title":null}},
   "y":{"datum":1.795,"type":"quantitative","scale":{"domain":[0,1.5],"nice":false},"axis":{"title":["NLuc/FLuc relative to","non-targeting (NT) guide"]}},"text":{"field":"h"}}},
 {"data":{"name":"eBr"},"mark":{"type":"text","fontSize":20,"color":"#111","align":"left","baseline":"alphabetic","dx":-73},"encoding":{
   "x":{"field":"ref","type":"nominal","bandPosition":0,"scale":{"domain":["Guides NT+NT","Guide 10","Guides 10+17"],"paddingInner":0.34,"paddingOuter":0.33},"axis":{"title":null}},
   "y":{"datum":1.769,"type":"quantitative","scale":{"domain":[0,1.5],"nice":false},"axis":{"title":["NLuc/FLuc relative to","non-targeting (NT) guide"]}},"text":{"field":"panel"}}}
]
},
{
"width": 172, "height": 144,
"layer": [
 {"data":{"name":"f"},"mark":{"type":"bar","stroke":"#111","strokeWidth":1.5},"encoding":{
   "x":{"field":"g","type":"nominal","scale":{"domain":["Guides NT+NT","Guide 17","Guides 10+17"],"paddingInner":0.34,"paddingOuter":0.33},"axis":{"title":null}},
   "y":{"aggregate":"mean","field":"v","type":"quantitative","scale":{"domain":[0,1.5],"nice":false},"axis":{"title":["NLuc/FLuc relative to","non-targeting (NT) guide"],"values":[0,0.5,1,1.5],"format":".1f"}},
   "color":{"field":"target","type":"nominal","scale":{"domain":["NT","sense","antisense","sense+antisense"],"range":["#d4d4d4","#3fa6dd","#4ea86d","#e7a7cd"]},"legend":null}}},
 {"data":{"name":"f"},"mark":{"type":"errorbar","extent":"stdev","color":"#111","ticks":{"size":18,"thickness":1.5},"rule":{"strokeWidth":1.5}},"encoding":{
   "x":{"field":"g","type":"nominal","scale":{"domain":["Guides NT+NT","Guide 17","Guides 10+17"],"paddingInner":0.34,"paddingOuter":0.33},"axis":{"title":null}},
   "y":{"field":"v","type":"quantitative","scale":{"domain":[0,1.5],"nice":false},"axis":{"title":["NLuc/FLuc relative to","non-targeting (NT) guide"]}}}},
 {"data":{"name":"f"},"mark":{"type":"point","filled":true,"size":14,"color":"#111","opacity":1},"encoding":{
   "x":{"field":"g","type":"nominal","scale":{"domain":["Guides NT+NT","Guide 17","Guides 10+17"],"paddingInner":0.34,"paddingOuter":0.33},"axis":{"title":null}},
   "xOffset":{"field":"rep","type":"nominal","scale":{"paddingOuter":2.6,"paddingInner":0}},
   "y":{"field":"v","type":"quantitative","scale":{"domain":[0,1.5],"nice":false},"axis":{"title":["NLuc/FLuc relative to","non-targeting (NT) guide"]}}}},
 {"data":{"name":"fBr"},"mark":{"type":"rule","color":"#111","strokeWidth":1.5},"encoding":{
   "x":{"field":"ref","type":"nominal","bandPosition":0.5,"scale":{"domain":["Guides NT+NT","Guide 17","Guides 10+17"],"paddingInner":0.34,"paddingOuter":0.33},"axis":{"title":null}},
   "x2":{"field":"mid","bandPosition":1.28},
   "y":{"field":"top","type":"quantitative","scale":{"domain":[0,1.5],"nice":false},"axis":{"title":["NLuc/FLuc relative to","non-targeting (NT) guide"]}}}},
 {"data":{"name":"fBr"},"mark":{"type":"rule","color":"#111","strokeWidth":1.5},"encoding":{
   "x":{"field":"ref","type":"nominal","bandPosition":0.5,"scale":{"domain":["Guides NT+NT","Guide 17","Guides 10+17"],"paddingInner":0.34,"paddingOuter":0.33},"axis":{"title":null}},
   "y":{"field":"top","type":"quantitative","scale":{"domain":[0,1.5],"nice":false},"axis":{"title":["NLuc/FLuc relative to","non-targeting (NT) guide"]}},"y2":{"field":"low"}}},
 {"data":{"name":"fBr"},"mark":{"type":"rule","color":"#111","strokeWidth":1.5},"encoding":{
   "x":{"field":"mid","type":"nominal","bandPosition":1.28,"scale":{"domain":["Guides NT+NT","Guide 17","Guides 10+17"],"paddingInner":0.34,"paddingOuter":0.33},"axis":{"title":null}},
   "y":{"field":"top","type":"quantitative","scale":{"domain":[0,1.5],"nice":false},"axis":{"title":["NLuc/FLuc relative to","non-targeting (NT) guide"]}},"y2":{"field":"low"}}},
 {"data":{"name":"fBr"},"mark":{"type":"rule","color":"#111","strokeWidth":1.5},"encoding":{
   "x":{"field":"first","type":"nominal","bandPosition":0.52,"scale":{"domain":["Guides NT+NT","Guide 17","Guides 10+17"],"paddingInner":0.34,"paddingOuter":0.33},"axis":{"title":null}},
   "x2":{"field":"last","bandPosition":0.51},
   "y":{"field":"low","type":"quantitative","scale":{"domain":[0,1.5],"nice":false},"axis":{"title":["NLuc/FLuc relative to","non-targeting (NT) guide"]}}}},
 {"data":{"name":"fBr"},"mark":{"type":"text","fontSize":10.5,"color":"#222","baseline":"middle"},"encoding":{
   "x":{"field":"ref","type":"nominal","bandPosition":1.44,"scale":{"domain":["Guides NT+NT","Guide 17","Guides 10+17"],"paddingInner":0.34,"paddingOuter":0.33},"axis":{"title":null}},
   "y":{"field":"py","type":"quantitative","scale":{"domain":[0,1.5],"nice":false},"axis":{"title":["NLuc/FLuc relative to","non-targeting (NT) guide"]}},"text":{"field":"p"}}},
 {"data":{"name":"fBr"},"mark":{"type":"text","fontSize":15,"fontWeight":"bold","lineHeight":19,"color":"#111","align":"center","baseline":"alphabetic"},"encoding":{
   "x":{"field":"center","type":"nominal","bandPosition":0.5,"scale":{"domain":["Guides NT+NT","Guide 17","Guides 10+17"],"paddingInner":0.34,"paddingOuter":0.33},"axis":{"title":null}},
   "y":{"datum":1.795,"type":"quantitative","scale":{"domain":[0,1.5],"nice":false},"axis":{"title":["NLuc/FLuc relative to","non-targeting (NT) guide"]}},"text":{"field":"h"}}},
 {"data":{"name":"fBr"},"mark":{"type":"text","fontSize":20,"color":"#111","align":"left","baseline":"alphabetic","dx":-73},"encoding":{
   "x":{"field":"ref","type":"nominal","bandPosition":0,"scale":{"domain":["Guides NT+NT","Guide 17","Guides 10+17"],"paddingInner":0.34,"paddingOuter":0.33},"axis":{"title":null}},
   "y":{"datum":1.769,"type":"quantitative","scale":{"domain":[0,1.5],"nice":false},"axis":{"title":["NLuc/FLuc relative to","non-targeting (NT) guide"]}},"text":{"field":"panel"}}}
]
}
]
}
],
"config": {
 "font": "Liberation Sans",
 "view": {"stroke": null},
 "axis": {"grid": false, "domainColor": "#111", "domainWidth": 1.5, "tickColor": "#111", "tickWidth": 1.5, "tickSize": 4, "labelColor": "#222", "titleColor": "#222", "titleFontWeight": "normal", "labelFont": "Liberation Sans", "titleFont": "Liberation Sans"},
 "axisX": {"labelFontSize": 14, "labelAngle": -45, "labelPadding": 1},
 "axisY": {"labelFontSize": 15, "titleFontSize": 14, "titleLineHeight": 15, "labelPadding": 2, "titlePadding": 3}
}
}
